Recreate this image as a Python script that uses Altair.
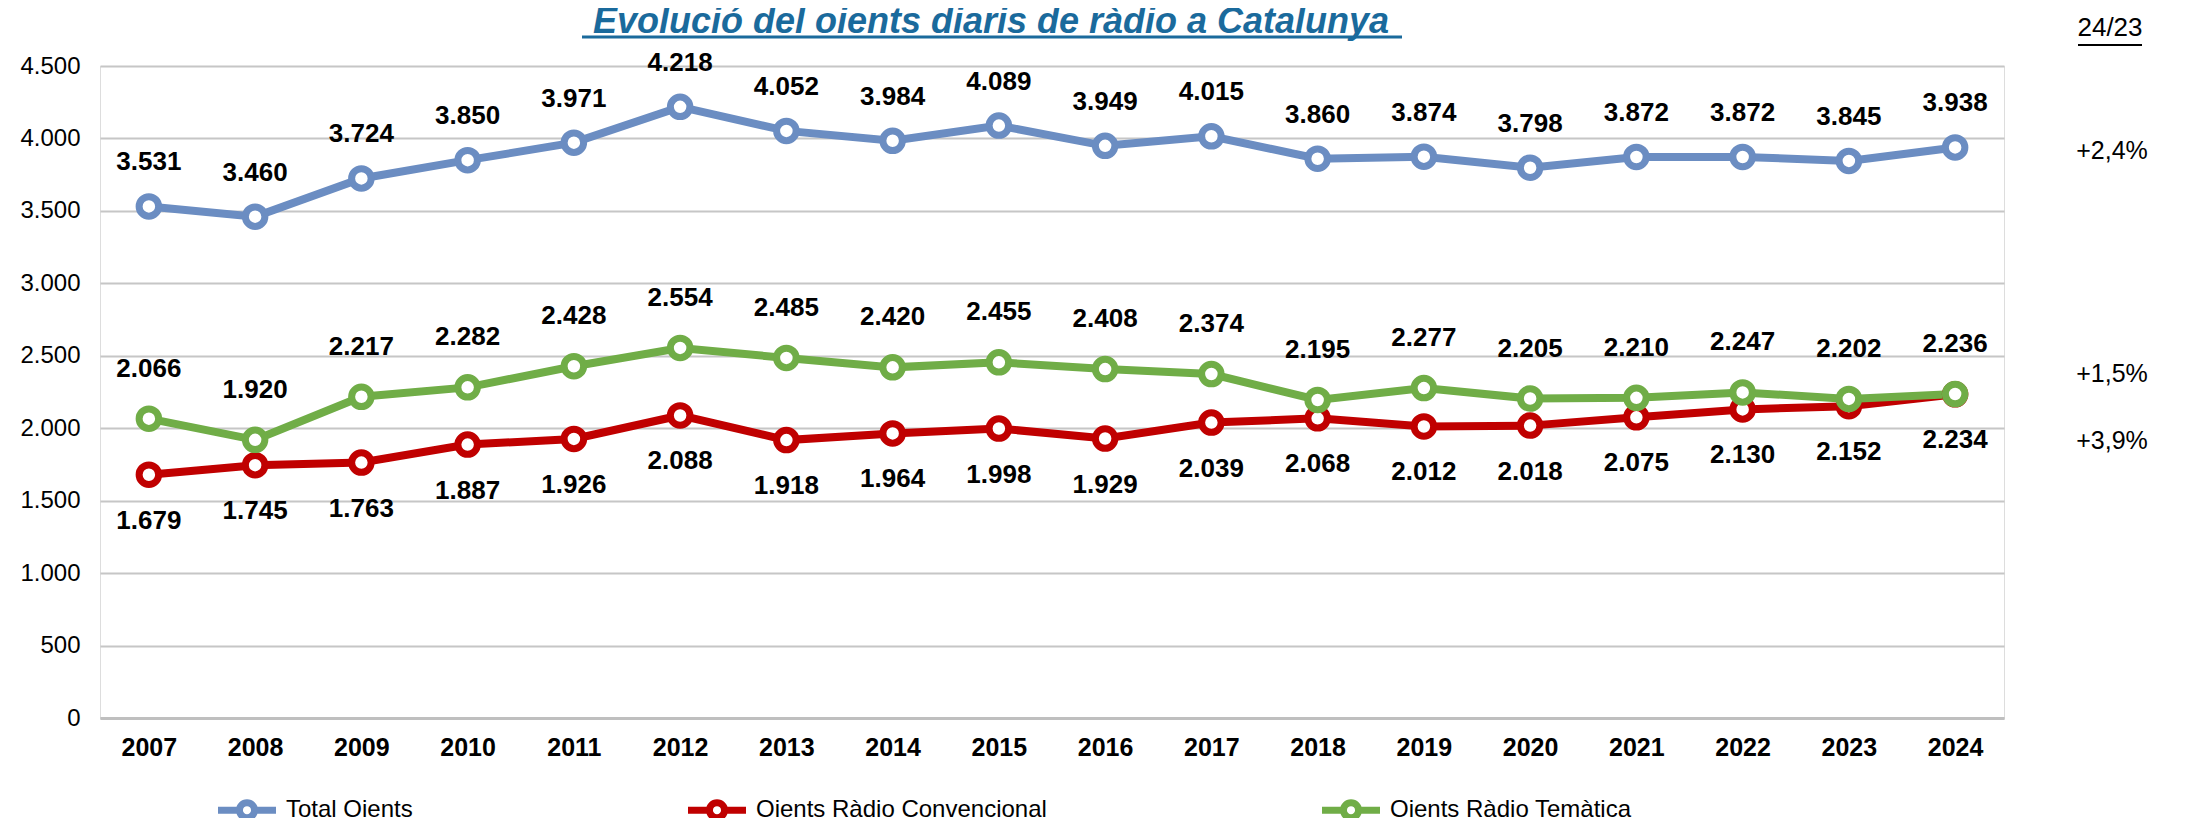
import altair as alt
import pandas as pd

years = [str(y) for y in range(2007, 2025)]
total = [3531, 3460, 3724, 3850, 3971, 4218, 4052, 3984, 4089, 3949, 4015, 3860, 3874, 3798, 3872, 3872, 3845, 3938]
conv = [1679, 1745, 1763, 1887, 1926, 2088, 1918, 1964, 1998, 1929, 2039, 2068, 2012, 2018, 2075, 2130, 2152, 2234]
tem = [2066, 1920, 2217, 2282, 2428, 2554, 2485, 2420, 2455, 2408, 2374, 2195, 2277, 2205, 2210, 2247, 2202, 2236]
series_names = ["Total Oients", "Oients Ràdio Convencional", "Oients Ràdio Temàtica"]
colors = ["#6B8DC2", "#C00000", "#70AD47"]
pct_labels = ["+2,4%", "+3,9%", "+1,5%"]
y_ticks = [0, 500, 1000, 1500, 2000, 2500, 3000, 3500, 4000, 4500]
title_text = "Evolució del oients diaris de ràdio a Catalunya"
period_text = "24/23"

FONT = "Liberation Sans"

rows = []
for name, vals in zip(series_names, [total, conv, tem]):
    for yr, v in zip(years, vals):
        rows.append({"year": yr, "series": name, "value": v,
                     "label": f"{v:,}".replace(",", ".")})
df = pd.DataFrame(rows)

pct_df = pd.DataFrame({
    "series": series_names,
    "value": [total[-1], conv[-1], tem[-1]],
    "pct": pct_labels,
})

W, H = 1904, 652

x_enc = alt.X("year:O", scale=alt.Scale(type="point", padding=0.46),
              axis=alt.Axis(title=None, labelFont=FONT, labelFontSize=25, labelFontWeight="bold",
                            labelColor="black", labelAngle=0, ticks=False, domain=True,
                            domainColor="#BFBFBF", domainWidth=3, labelPadding=17))
y_enc = alt.Y("value:Q", scale=alt.Scale(domain=[0, 4500]),
              axis=alt.Axis(values=y_ticks, title=None,
                            labelExpr="replace(format(datum.value, ','), ',', '.')",
                            labelFont=FONT, labelFontSize=24, labelColor="black",
                            ticks=False, domain=False, grid=True, gridColor="#C6C6C6",
                            gridWidth=2, labelPadding=20))

cscale = alt.Scale(domain=series_names, range=colors)

legend_path = ("M-2,0 L-0.52,0 M0.52,0 L2,0 "
               "M-0.52,0 A0.52,0.52 0 1,1 0.52,0 A0.52,0.52 0 1,1 -0.52,0")

base = alt.Chart(df)

lines = base.mark_line(strokeWidth=8).encode(
    x=x_enc, y=y_enc,
    color=alt.Color("series:N", scale=cscale, sort=series_names,
                    legend=alt.Legend(title=None, orient="none", legendX=129, legendY=726,
                                      direction="horizontal", columns=3, columnPadding=261,
                                      symbolType=legend_path, symbolSize=841,
                                      symbolStrokeWidth=7, symbolFillColor="white",
                                      labelFont=FONT, labelFontSize=24, labelColor="black",
                                      labelLimit=800, labelOffset=21, padding=0)),
)

points = base.mark_point(shape="circle", filled=True, fill="white", size=380,
                         strokeWidth=7, opacity=1).encode(
    x=x_enc, y=y_enc,
    stroke=alt.Stroke("series:N", scale=cscale, legend=None),
)

label_dy = {"Total Oients": -44, "Oients Ràdio Convencional": 46, "Oients Ràdio Temàtica": -50}
label_layers = []
for name in series_names:
    label_layers.append(
        base.transform_filter(alt.datum.series == name).mark_text(
            font=FONT, fontSize=26, fontWeight="bold", color="black", dy=label_dy[name]
        ).encode(x=x_enc, y=y_enc, text="label:N")
    )

pct_dy = {"Total Oients": 4, "Oients Ràdio Convencional": 47, "Oients Ràdio Temàtica": -20}
pct_layers = []
for name in series_names:
    pct_layers.append(
        alt.Chart(pct_df).transform_filter(alt.datum.series == name).mark_text(
            font=FONT, fontSize=25, color="black", dy=pct_dy[name]
        ).encode(x=alt.value(2012), y=y_enc, text="pct:N")
    )

tdf = pd.DataFrame({"t": [title_text]})
title = alt.Chart(tdf).mark_text(
    font=FONT, fontSize=36, fontWeight="bold", fontStyle="italic", color="#1A6A9C",
    align="center", baseline="alphabetic"
).encode(x=alt.value(891), y=alt.value(-33), text="t:N")
title_ul = alt.Chart(tdf).mark_rule(color="#1A6A9C", strokeWidth=3).encode(
    x=alt.value(482), x2=alt.value(1302), y=alt.value(-29))

pdf = pd.DataFrame({"t": [period_text]})
period = alt.Chart(pdf).mark_text(
    font=FONT, fontSize=26, color="black", align="center", baseline="middle"
).encode(x=alt.value(2010), y=alt.value(-38), text="t:N")
period_ul = alt.Chart(pdf).mark_rule(color="black", strokeWidth=2).encode(
    x=alt.value(1978), x2=alt.value(2042), y=alt.value(-21))

chart = alt.layer(lines, points, *label_layers, *pct_layers, title, title_ul, period, period_ul).properties(
    width=W, height=H,
    autosize=alt.AutoSizeParams(type="none"),
    padding={"left": 92, "top": 58, "right": 175, "bottom": 100},
).configure_view(stroke=None).configure(background="white")

chart.save("out.html", embed_options={"renderer": "svg", "actions": False})
